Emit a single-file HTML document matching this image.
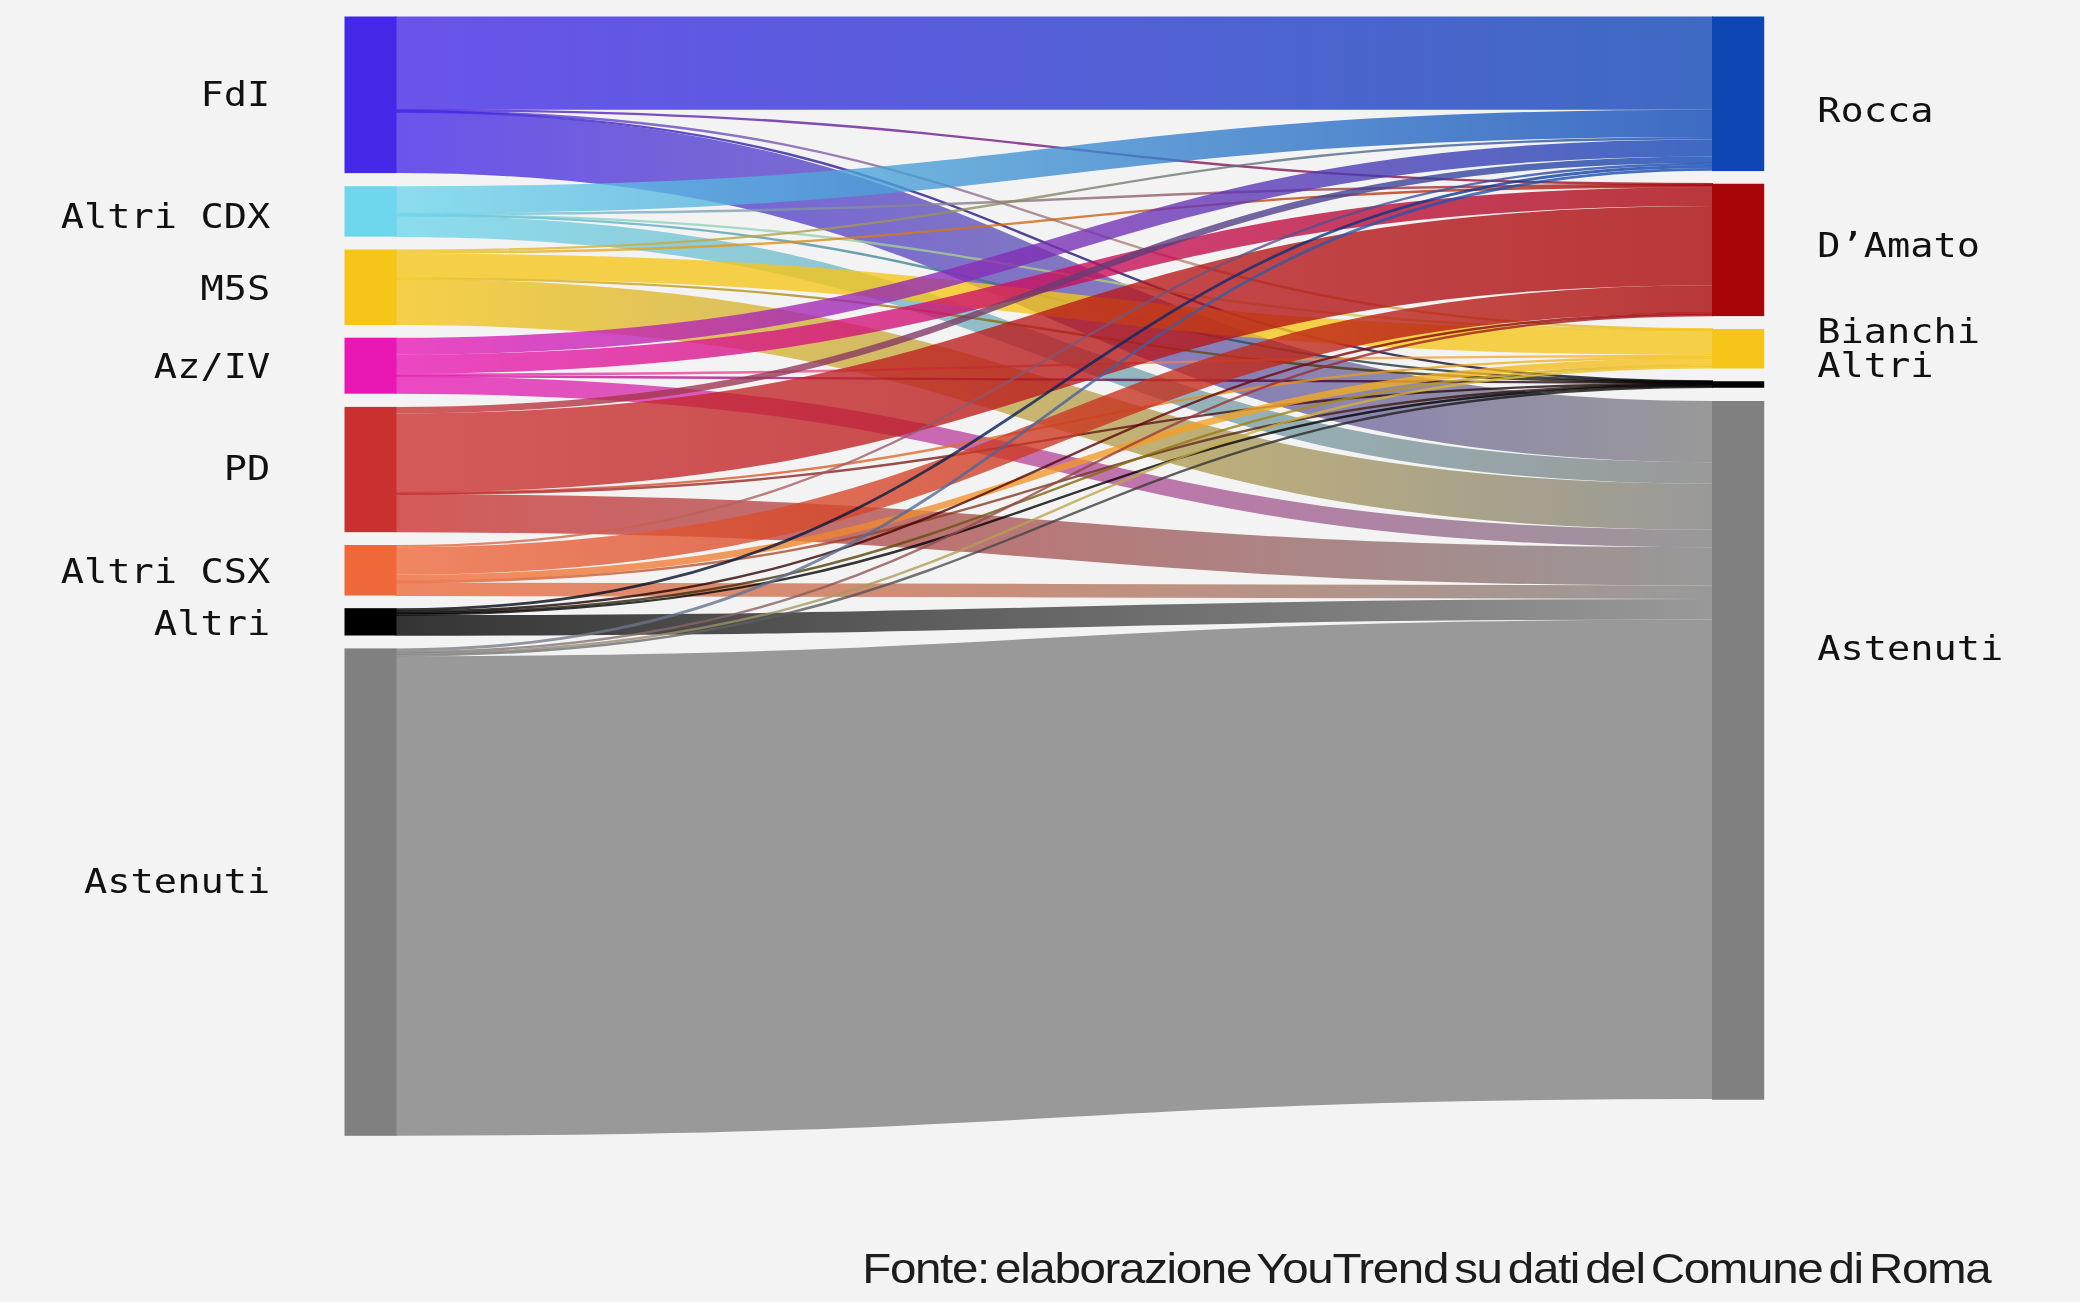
<!DOCTYPE html>
<html lang="it">
<head>
<meta charset="utf-8">
<title>Flussi elettorali</title>
<style>
html,body{margin:0;padding:0;background:#f3f3f3;}
body{width:2080px;height:1302px;}
svg{display:block;}
</style>
</head>
<body>
<svg width="2080" height="1302" viewBox="0 0 2080 1302" role="img" aria-label="Flussi elettorali: Politiche 2022 - Regionali Lazio 2023">
<rect width="2080" height="1302" fill="#f3f3f3"/>
<defs>
<linearGradient id="g0_0" gradientUnits="userSpaceOnUse" x1="396.5" x2="1712" y1="0" y2="0"><stop offset="0" stop-color="#4428e8"/><stop offset="1" stop-color="#0d45b5"/></linearGradient>
<linearGradient id="g0_1" gradientUnits="userSpaceOnUse" x1="396.5" x2="1712" y1="0" y2="0"><stop offset="0" stop-color="#4428e8"/><stop offset="1" stop-color="#a80508"/></linearGradient>
<linearGradient id="g0_2" gradientUnits="userSpaceOnUse" x1="396.5" x2="1712" y1="0" y2="0"><stop offset="0" stop-color="#4428e8"/><stop offset="1" stop-color="#f5c518"/></linearGradient>
<linearGradient id="g0_3" gradientUnits="userSpaceOnUse" x1="396.5" x2="1712" y1="0" y2="0"><stop offset="0" stop-color="#4428e8"/><stop offset="1" stop-color="#000000"/></linearGradient>
<linearGradient id="g0_4" gradientUnits="userSpaceOnUse" x1="396.5" x2="1712" y1="0" y2="0"><stop offset="0" stop-color="#4428e8"/><stop offset="1" stop-color="#808080"/></linearGradient>
<linearGradient id="g1_0" gradientUnits="userSpaceOnUse" x1="396.5" x2="1712" y1="0" y2="0"><stop offset="0" stop-color="#6ed6ec"/><stop offset="1" stop-color="#0d45b5"/></linearGradient>
<linearGradient id="g1_1" gradientUnits="userSpaceOnUse" x1="396.5" x2="1712" y1="0" y2="0"><stop offset="0" stop-color="#6ed6ec"/><stop offset="1" stop-color="#a80508"/></linearGradient>
<linearGradient id="g1_2" gradientUnits="userSpaceOnUse" x1="396.5" x2="1712" y1="0" y2="0"><stop offset="0" stop-color="#6ed6ec"/><stop offset="1" stop-color="#f5c518"/></linearGradient>
<linearGradient id="g1_3" gradientUnits="userSpaceOnUse" x1="396.5" x2="1712" y1="0" y2="0"><stop offset="0" stop-color="#6ed6ec"/><stop offset="1" stop-color="#000000"/></linearGradient>
<linearGradient id="g1_4" gradientUnits="userSpaceOnUse" x1="396.5" x2="1712" y1="0" y2="0"><stop offset="0" stop-color="#6ed6ec"/><stop offset="1" stop-color="#808080"/></linearGradient>
<linearGradient id="g2_0" gradientUnits="userSpaceOnUse" x1="396.5" x2="1712" y1="0" y2="0"><stop offset="0" stop-color="#f5c518"/><stop offset="1" stop-color="#0d45b5"/></linearGradient>
<linearGradient id="g2_1" gradientUnits="userSpaceOnUse" x1="396.5" x2="1712" y1="0" y2="0"><stop offset="0" stop-color="#f5c518"/><stop offset="1" stop-color="#a80508"/></linearGradient>
<linearGradient id="g2_2" gradientUnits="userSpaceOnUse" x1="396.5" x2="1712" y1="0" y2="0"><stop offset="0" stop-color="#f5c518"/><stop offset="1" stop-color="#f5c518"/></linearGradient>
<linearGradient id="g2_3" gradientUnits="userSpaceOnUse" x1="396.5" x2="1712" y1="0" y2="0"><stop offset="0" stop-color="#f5c518"/><stop offset="1" stop-color="#000000"/></linearGradient>
<linearGradient id="g2_4" gradientUnits="userSpaceOnUse" x1="396.5" x2="1712" y1="0" y2="0"><stop offset="0" stop-color="#f5c518"/><stop offset="1" stop-color="#808080"/></linearGradient>
<linearGradient id="g3_0" gradientUnits="userSpaceOnUse" x1="396.5" x2="1712" y1="0" y2="0"><stop offset="0" stop-color="#e918b5"/><stop offset="1" stop-color="#0d45b5"/></linearGradient>
<linearGradient id="g3_1" gradientUnits="userSpaceOnUse" x1="396.5" x2="1712" y1="0" y2="0"><stop offset="0" stop-color="#e918b5"/><stop offset="1" stop-color="#a80508"/></linearGradient>
<linearGradient id="g3_2" gradientUnits="userSpaceOnUse" x1="396.5" x2="1712" y1="0" y2="0"><stop offset="0" stop-color="#e918b5"/><stop offset="1" stop-color="#f5c518"/></linearGradient>
<linearGradient id="g3_3" gradientUnits="userSpaceOnUse" x1="396.5" x2="1712" y1="0" y2="0"><stop offset="0" stop-color="#e918b5"/><stop offset="1" stop-color="#000000"/></linearGradient>
<linearGradient id="g3_4" gradientUnits="userSpaceOnUse" x1="396.5" x2="1712" y1="0" y2="0"><stop offset="0" stop-color="#e918b5"/><stop offset="1" stop-color="#808080"/></linearGradient>
<linearGradient id="g4_0" gradientUnits="userSpaceOnUse" x1="396.5" x2="1712" y1="0" y2="0"><stop offset="0" stop-color="#cb3030"/><stop offset="1" stop-color="#0d45b5"/></linearGradient>
<linearGradient id="g4_1" gradientUnits="userSpaceOnUse" x1="396.5" x2="1712" y1="0" y2="0"><stop offset="0" stop-color="#cb3030"/><stop offset="1" stop-color="#a80508"/></linearGradient>
<linearGradient id="g4_2" gradientUnits="userSpaceOnUse" x1="396.5" x2="1712" y1="0" y2="0"><stop offset="0" stop-color="#cb3030"/><stop offset="1" stop-color="#f5c518"/></linearGradient>
<linearGradient id="g4_3" gradientUnits="userSpaceOnUse" x1="396.5" x2="1712" y1="0" y2="0"><stop offset="0" stop-color="#cb3030"/><stop offset="1" stop-color="#000000"/></linearGradient>
<linearGradient id="g4_4" gradientUnits="userSpaceOnUse" x1="396.5" x2="1712" y1="0" y2="0"><stop offset="0" stop-color="#cb3030"/><stop offset="1" stop-color="#808080"/></linearGradient>
<linearGradient id="g5_0" gradientUnits="userSpaceOnUse" x1="396.5" x2="1712" y1="0" y2="0"><stop offset="0" stop-color="#ee683a"/><stop offset="1" stop-color="#0d45b5"/></linearGradient>
<linearGradient id="g5_1" gradientUnits="userSpaceOnUse" x1="396.5" x2="1712" y1="0" y2="0"><stop offset="0" stop-color="#ee683a"/><stop offset="1" stop-color="#a80508"/></linearGradient>
<linearGradient id="g5_2" gradientUnits="userSpaceOnUse" x1="396.5" x2="1712" y1="0" y2="0"><stop offset="0" stop-color="#ee683a"/><stop offset="1" stop-color="#f5c518"/></linearGradient>
<linearGradient id="g5_3" gradientUnits="userSpaceOnUse" x1="396.5" x2="1712" y1="0" y2="0"><stop offset="0" stop-color="#ee683a"/><stop offset="1" stop-color="#000000"/></linearGradient>
<linearGradient id="g5_4" gradientUnits="userSpaceOnUse" x1="396.5" x2="1712" y1="0" y2="0"><stop offset="0" stop-color="#ee683a"/><stop offset="1" stop-color="#808080"/></linearGradient>
<linearGradient id="g6_0" gradientUnits="userSpaceOnUse" x1="396.5" x2="1712" y1="0" y2="0"><stop offset="0" stop-color="#000000"/><stop offset="1" stop-color="#0d45b5"/></linearGradient>
<linearGradient id="g6_1" gradientUnits="userSpaceOnUse" x1="396.5" x2="1712" y1="0" y2="0"><stop offset="0" stop-color="#000000"/><stop offset="1" stop-color="#a80508"/></linearGradient>
<linearGradient id="g6_2" gradientUnits="userSpaceOnUse" x1="396.5" x2="1712" y1="0" y2="0"><stop offset="0" stop-color="#000000"/><stop offset="1" stop-color="#f5c518"/></linearGradient>
<linearGradient id="g6_3" gradientUnits="userSpaceOnUse" x1="396.5" x2="1712" y1="0" y2="0"><stop offset="0" stop-color="#000000"/><stop offset="1" stop-color="#000000"/></linearGradient>
<linearGradient id="g6_4" gradientUnits="userSpaceOnUse" x1="396.5" x2="1712" y1="0" y2="0"><stop offset="0" stop-color="#000000"/><stop offset="1" stop-color="#808080"/></linearGradient>
<linearGradient id="g7_0" gradientUnits="userSpaceOnUse" x1="396.5" x2="1712" y1="0" y2="0"><stop offset="0" stop-color="#808080"/><stop offset="1" stop-color="#0d45b5"/></linearGradient>
<linearGradient id="g7_1" gradientUnits="userSpaceOnUse" x1="396.5" x2="1712" y1="0" y2="0"><stop offset="0" stop-color="#808080"/><stop offset="1" stop-color="#a80508"/></linearGradient>
<linearGradient id="g7_2" gradientUnits="userSpaceOnUse" x1="396.5" x2="1712" y1="0" y2="0"><stop offset="0" stop-color="#808080"/><stop offset="1" stop-color="#f5c518"/></linearGradient>
<linearGradient id="g7_3" gradientUnits="userSpaceOnUse" x1="396.5" x2="1712" y1="0" y2="0"><stop offset="0" stop-color="#808080"/><stop offset="1" stop-color="#000000"/></linearGradient>
<linearGradient id="g7_4" gradientUnits="userSpaceOnUse" x1="396.5" x2="1712" y1="0" y2="0"><stop offset="0" stop-color="#808080"/><stop offset="1" stop-color="#808080"/></linearGradient>
<filter id="soft" x="-2%" y="-2%" width="104%" height="104%" color-interpolation-filters="sRGB"><feGaussianBlur stdDeviation="0.65"/></filter>
<filter id="softtext" x="-5%" y="-20%" width="110%" height="140%" color-interpolation-filters="sRGB"><feGaussianBlur stdDeviation="0.6"/></filter>
</defs>
<g class="chart" filter="url(#soft)">
<g class="links" fill="none" stroke-opacity="0.79">
<path d="M395.5,63.1H396.5C1054.25,63.1 1054.25,63.1 1712,63.1H1713" stroke="url(#g0_0)" stroke-width="93.2"/>
<path d="M395.5,110.15H396.5C1054.25,110.15 1054.25,184.2 1712,184.2H1713" stroke="url(#g0_1)" stroke-width="2.4"/>
<path d="M395.5,110.95H396.5C1054.25,110.95 1054.25,329.35 1712,329.35H1713" stroke="url(#g0_2)" stroke-width="2.4"/>
<path d="M395.5,111.55H396.5C1054.25,111.55 1054.25,381.5 1712,381.5H1713" stroke="url(#g0_3)" stroke-width="2.4"/>
<path d="M395.5,142.4H396.5C1054.25,142.4 1054.25,431.6 1712,431.6H1713" stroke="url(#g0_4)" stroke-width="61.2"/>
<path d="M395.5,199.9H396.5C1054.25,199.9 1054.25,123.4 1712,123.4H1713" stroke="url(#g1_0)" stroke-width="27.4"/>
<path d="M395.5,214H396.5C1054.25,214 1054.25,185.05 1712,185.05H1713" stroke="url(#g1_1)" stroke-width="2.4"/>
<path d="M395.5,214.7H396.5C1054.25,214.7 1054.25,330 1712,330H1713" stroke="url(#g1_2)" stroke-width="2.4"/>
<path d="M395.5,215.2H396.5C1054.25,215.2 1054.25,381.95 1712,381.95H1713" stroke="url(#g1_3)" stroke-width="2.4"/>
<path d="M395.5,226.15H396.5C1054.25,226.15 1054.25,472.95 1712,472.95H1713" stroke="url(#g1_4)" stroke-width="21.5"/>
<path d="M395.5,250.65H396.5C1054.25,250.65 1054.25,138.25 1712,138.25H1713" stroke="url(#g2_0)" stroke-width="2.4"/>
<path d="M395.5,252.65H396.5C1054.25,252.65 1054.25,186.3 1712,186.3H1713" stroke="url(#g2_1)" stroke-width="2.4"/>
<path d="M395.5,265.9H396.5C1054.25,265.9 1054.25,342.7 1712,342.7H1713" stroke="url(#g2_2)" stroke-width="24.8"/>
<path d="M395.5,278.6H396.5C1054.25,278.6 1054.25,382.45 1712,382.45H1713" stroke="url(#g2_3)" stroke-width="2.4"/>
<path d="M395.5,301.95H396.5C1054.25,301.95 1054.25,506.75 1712,506.75H1713" stroke="url(#g2_4)" stroke-width="46.1"/>
<path d="M395.5,346.2H396.5C1054.25,346.2 1054.25,147.9 1712,147.9H1713" stroke="url(#g3_0)" stroke-width="17"/>
<path d="M395.5,364.15H396.5C1054.25,364.15 1054.25,196.6 1712,196.6H1713" stroke="url(#g3_1)" stroke-width="18.9"/>
<path d="M395.5,374.55H396.5C1054.25,374.55 1054.25,356.05 1712,356.05H1713" stroke="url(#g3_2)" stroke-width="2.4"/>
<path d="M395.5,375.9H396.5C1054.25,375.9 1054.25,383.15 1712,383.15H1713" stroke="url(#g3_3)" stroke-width="2.4"/>
<path d="M395.5,385.05H396.5C1054.25,385.05 1054.25,538.55 1712,538.55H1713" stroke="url(#g3_4)" stroke-width="17.5"/>
<path d="M395.5,410.15H396.5C1054.25,410.15 1054.25,159.65 1712,159.65H1713" stroke="url(#g4_0)" stroke-width="6.5"/>
<path d="M395.5,453H396.5C1054.25,453 1054.25,245.65 1712,245.65H1713" stroke="url(#g4_1)" stroke-width="79.2"/>
<path d="M395.5,493.1H396.5C1054.25,493.1 1054.25,357.5 1712,357.5H1713" stroke="url(#g4_2)" stroke-width="2.4"/>
<path d="M395.5,493.85H396.5C1054.25,493.85 1054.25,383.8 1712,383.8H1713" stroke="url(#g4_3)" stroke-width="2.4"/>
<path d="M395.5,513.2H396.5C1054.25,513.2 1054.25,566.4 1712,566.4H1713" stroke="url(#g4_4)" stroke-width="38.2"/>
<path d="M395.5,546.1H396.5C1054.25,546.1 1054.25,164 1712,164H1713" stroke="url(#g5_0)" stroke-width="2.4"/>
<path d="M395.5,561H396.5C1054.25,561 1054.25,299.05 1712,299.05H1713" stroke="url(#g5_1)" stroke-width="27.6"/>
<path d="M395.5,578.2H396.5C1054.25,578.2 1054.25,361.4 1712,361.4H1713" stroke="url(#g5_2)" stroke-width="6.8"/>
<path d="M395.5,582H396.5C1054.25,582 1054.25,384.45 1712,384.45H1713" stroke="url(#g5_3)" stroke-width="2.4"/>
<path d="M395.5,589.15H396.5C1054.25,589.15 1054.25,592.25 1712,592.25H1713" stroke="url(#g5_4)" stroke-width="13.5"/>
<path d="M395.5,609.6H396.5C1054.25,609.6 1054.25,166.5 1712,166.5H1713" stroke="url(#g6_0)" stroke-width="2.8"/>
<path d="M395.5,611.65H396.5C1054.25,611.65 1054.25,313.5 1712,313.5H1713" stroke="url(#g6_1)" stroke-width="2.4"/>
<path d="M395.5,613.05H396.5C1054.25,613.05 1054.25,365.55 1712,365.55H1713" stroke="url(#g6_2)" stroke-width="2.4"/>
<path d="M395.5,614.45H396.5C1054.25,614.45 1054.25,385.5 1712,385.5H1713" stroke="url(#g6_3)" stroke-width="2.4"/>
<path d="M395.5,625.4H396.5C1054.25,625.4 1054.25,609.3 1712,609.3H1713" stroke="url(#g6_4)" stroke-width="20.6"/>
<path d="M395.5,649.85H396.5C1054.25,649.85 1054.25,169.35 1712,169.35H1713" stroke="url(#g7_0)" stroke-width="2.9"/>
<path d="M395.5,652.1H396.5C1054.25,652.1 1054.25,314.95 1712,314.95H1713" stroke="url(#g7_1)" stroke-width="2.4"/>
<path d="M395.5,653.85H396.5C1054.25,653.85 1054.25,367.25 1712,367.25H1713" stroke="url(#g7_2)" stroke-width="2.4"/>
<path d="M395.5,655.5H396.5C1054.25,655.5 1054.25,386.85 1712,386.85H1713" stroke="url(#g7_3)" stroke-width="2.4"/>
<path d="M395.5,895.95H396.5C1054.25,895.95 1054.25,859.35 1712,859.35H1713" stroke="url(#g7_4)" stroke-width="479.5"/>
</g>
<g class="nodes">
<rect x="344.5" y="16.5" width="52" height="156.6" fill="#4428e8"/>
<rect x="344.5" y="186.2" width="52" height="50.4" fill="#6ed6ec"/>
<rect x="344.5" y="249.5" width="52" height="75.5" fill="#f5c518"/>
<rect x="344.5" y="337.7" width="52" height="56" fill="#e918b5"/>
<rect x="344.5" y="406.9" width="52" height="125.3" fill="#cb3030"/>
<rect x="344.5" y="545" width="52" height="50.5" fill="#ee683a"/>
<rect x="344.5" y="608.2" width="52" height="27.3" fill="#000000"/>
<rect x="344.5" y="648.4" width="52" height="487.4" fill="#808080"/>
<rect x="1712" y="16.5" width="52.2" height="154.6" fill="#0d45b5"/>
<rect x="1712" y="183.75" width="52.2" height="132.35" fill="#a80508"/>
<rect x="1712" y="329" width="52.2" height="39.5" fill="#f5c518"/>
<rect x="1712" y="381.25" width="52.2" height="6.5" fill="#000000"/>
<rect x="1712" y="401" width="52.2" height="698.75" fill="#808080"/>
</g>
</g>
<g class="labels" filter="url(#softtext)" font-family="'DejaVu Sans Mono', 'Liberation Mono', monospace" font-size="34.3" fill="#111">
<text transform="translate(270.2,106.3) scale(1.127,1)" text-anchor="end">FdI</text>
<text transform="translate(270.2,228.1) scale(1.127,1)" text-anchor="end">Altri CDX</text>
<text transform="translate(270.2,300) scale(1.127,1)" text-anchor="end">M5S</text>
<text transform="translate(270.2,377.5) scale(1.127,1)" text-anchor="end">Az/IV</text>
<text transform="translate(270.2,480) scale(1.127,1)" text-anchor="end">PD</text>
<text transform="translate(270.2,583.1) scale(1.127,1)" text-anchor="end">Altri CSX</text>
<text transform="translate(270.2,635) scale(1.127,1)" text-anchor="end">Altri</text>
<text transform="translate(270.2,892.5) scale(1.127,1)" text-anchor="end">Astenuti</text>
<text transform="translate(1817.2,121.9) scale(1.127,1)">Rocca</text>
<text transform="translate(1817.2,256.9) scale(1.127,1)">D’Amato</text>
<text transform="translate(1817.2,343.1) scale(1.127,1)">Bianchi</text>
<text transform="translate(1817.2,376.9) scale(1.127,1)">Altri</text>
<text transform="translate(1817.2,660) scale(1.127,1)">Astenuti</text>
</g>
<text class="source" filter="url(#softtext)" transform="translate(862.3,1282.5) scale(1.132,1)" font-family="'Liberation Sans', Arial, sans-serif" font-size="42" fill="#1c1c1c" letter-spacing="-1.2" word-spacing="-5">Fonte: elaborazione YouTrend su dati del Comune di Roma</text>
</svg>
</body>
</html>
